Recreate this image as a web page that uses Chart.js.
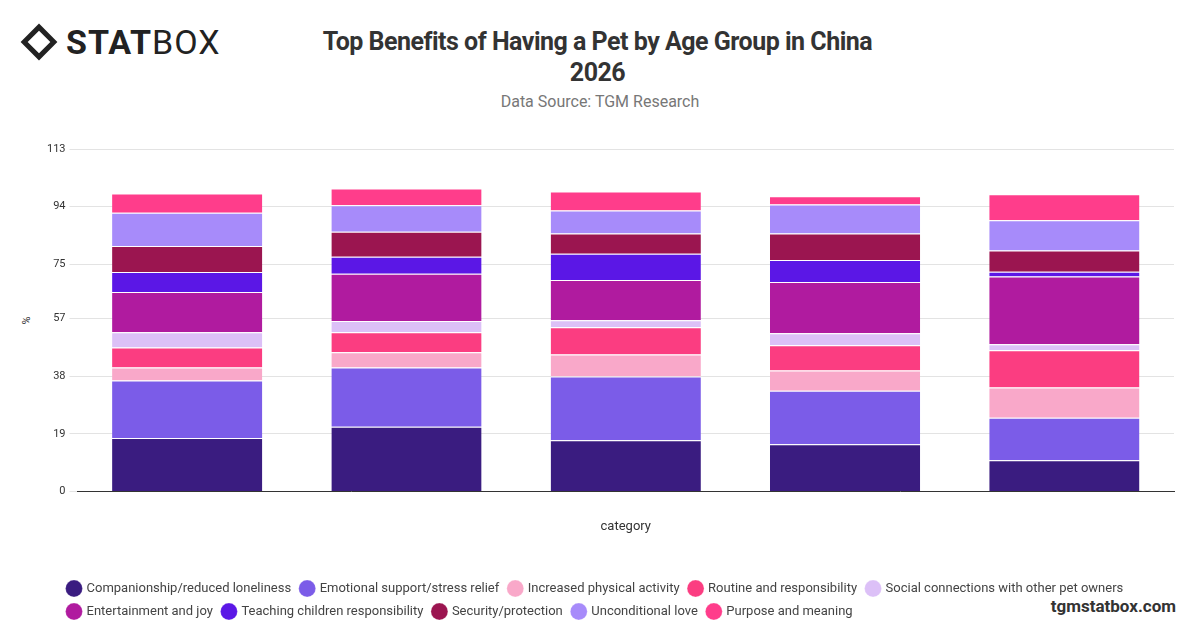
<!DOCTYPE html>
<html>
<head>
<meta charset="utf-8">
<script src="https://cdn.jsdelivr.net/npm/chart.js@4"></script>
<style>
  body { margin: 0; width: 1200px; height: 628px; background: #fff; font-family: Roboto, "Open Sans", sans-serif; position: relative; overflow: hidden; }
  #logo { position: absolute; left: 26px; top: 22px; font-size: 34px; color: #222; letter-spacing: 1px; display: flex; align-items: center; }
  #logo .mark { width: 26px; height: 26px; border: 5px solid #222; transform: rotate(45deg); margin-right: 14px; box-sizing: border-box; }
  #title { position: absolute; left: 0; width: 1195px; top: 26px; text-align: center; font-size: 25px; font-weight: bold; color: #333; line-height: 31px; letter-spacing: -0.5px; }
  #source { position: absolute; left: 0; width: 1200px; top: 92px; text-align: center; font-size: 16px; color: #777; }
  #wm { position: absolute; right: 24px; top: 596px; font-size: 17px; font-weight: bold; color: #333; }
  #ytitle { position: absolute; left: 22px; top: 314px; font-size: 11px; color: #333; transform: rotate(-90deg); }
  #wrap { position: absolute; left: 41px; top: 130px; width: 1159px; height: 498px; }
</style>
</head>
<body>
<div id="logo"><span class="mark"></span><b>STAT</b>BOX</div>
<div id="title">Top Benefits of Having a Pet by Age Group in China<br>2026</div>
<div id="source">Data Source: TGM Research</div>
<div id="wm">tgmstatbox.com</div>
<div id="ytitle">%</div>
<div id="wrap"><canvas id="chart"></canvas></div>
<script>
// Categorías (sin etiquetas visibles en el original)
const categories = ['', '', '', '', ''];
const yTicks = [0, 19, 38, 57, 75, 94, 113];

const seriesNames = [
    'Companionship/reduced loneliness',
    'Emotional support/stress relief',
    'Increased physical activity',
    'Routine and responsibility',
    'Social connections with other pet owners',
    'Entertainment and joy',
    'Teaching children responsibility',
    'Security/protection',
    'Unconditional love',
    'Purpose and meaning'
];
const seriesColors = ['#3a1c80', '#7b5ce8', '#f9a8c9', '#fb3d81', '#dcc0f7', '#b01b9f', '#5b17e6', '#9b1550', '#a78bfa', '#ff3d8b'];

const companionship = [17.6, 21.3, 16.9, 15.6, 10.3];
const emotional = [19.0, 19.6, 21.0, 17.6, 14.0];
const physical = [4.3, 5.0, 7.3, 6.7, 10.0];
const routine = [6.6, 6.6, 9.0, 8.3, 12.3];
const social = [5.0, 3.7, 2.3, 4.0, 2.0];
const entertainment = [13.3, 15.6, 13.3, 16.9, 22.3];
const teaching = [6.6, 5.6, 8.6, 7.3, 1.6];
const security = [8.6, 8.3, 6.7, 8.7, 7.0];
const unconditional = [11.0, 8.7, 7.6, 9.6, 10.0];
const purpose = [6.3, 5.6, 6.3, 2.7, 8.6];

const seriesValues = [companionship, emotional, physical, routine, social, entertainment, teaching, security, unconditional, purpose];

// Desplazar la leyenda a la derecha, independiente del área del gráfico
const legendShift = {
    id: 'legendShift',
    afterLayout(chart) {
        const lg = chart.legend;
        if (!lg) return;
        lg.left += 15;
        lg.right += 15;
        lg.adjustHitBoxes();
    }
};

const ctx = document.getElementById('chart').getContext('2d');
new Chart(ctx, {
    type: 'bar',
    data: {
        labels: categories,
        datasets: seriesNames.map((name, i) => ({
            label: name,
            data: seriesValues[i],
            backgroundColor: seriesColors[i],
            borderColor: '#ffffff',
            borderWidth: { top: 1 },
            categoryPercentage: 0.685,
            barPercentage: 1.0
        }))
    },
    options: {
        responsive: true,
        maintainAspectRatio: false,
        animation: false,
        layout: { padding: { left: 2, right: 26, top: 19, bottom: 0 } },
        plugins: {
            tooltip: { enabled: false },
            legend: {
                position: 'bottom',
                align: 'start',
                labels: {
                    usePointStyle: true,
                    pointStyle: 'circle',
                    boxWidth: 12,
                    boxHeight: 12,
                    padding: 10,
                    color: '#444',
                    font: { size: 13, family: 'Roboto' }
                }
            }
        },
        scales: {
            x: {
                stacked: true,
                grid: { display: false },
                border: { color: '#333' },
                ticks: { display: false },
                title: { display: true, text: 'category', color: '#333', font: { size: 13, family: 'Roboto' }, padding: { top: 20, bottom: 37 } }
            },
            y: {
                stacked: true,
                min: 0,
                max: 113,
                afterBuildTicks: axis => { axis.ticks = yTicks.map(v => ({ value: v })); },
                grid: { color: '#e3e3e3' },
                border: { display: false },
                ticks: { color: '#333', font: { size: 11, family: 'Roboto' }, padding: 4 }
            }
        }
    },
    plugins: [legendShift]
});
</script>
</body>
</html>
